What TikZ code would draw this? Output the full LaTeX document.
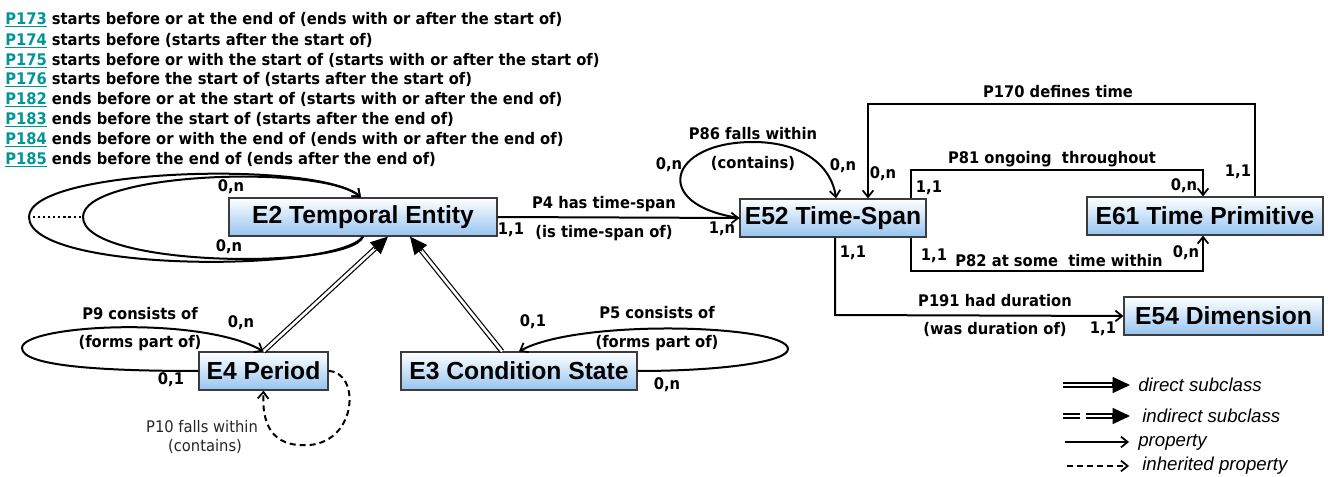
\documentclass[tikz,border=0pt]{standalone}
\usepackage{fontspec}
\usetikzlibrary{arrows.meta,calc}
\newfontfamily\lblfont{DejaVu Sans}[FakeStretch=0.92]
\newfontfamily\boxfont{Liberation Sans}
\definecolor{tealP}{RGB}{0,150,150}
\definecolor{boxblue}{RGB}{150,196,240}
\definecolor{boxline}{RGB}{60,60,60}
\begin{document}
\begin{tikzpicture}[x=0.75pt,y=-0.75pt,
  box/.style={draw=boxline, line width=0.9pt, top color=white, bottom color=boxblue,
    minimum height=28.5pt, inner sep=0pt, font=\boxfont\bfseries\fontsize{18.5}{20}\selectfont},
  lbl/.style={font=\lblfont\bfseries\fontsize{12}{13}\selectfont, inner sep=0pt},
  thin lbl/.style={font=\lblfont\fontsize{12}{13}\selectfont, inner sep=0pt, text=black!85},
  leg/.style={font=\boxfont\itshape\fontsize{14}{16}\selectfont, inner sep=0pt, anchor=west},
  prop/.style={line width=1.5pt, -{Straight Barb[length=5pt,width=8pt,line width=1.3pt]}},
  inh/.style={line width=1.5pt, dash pattern=on 4.5pt off 3pt, -{Straight Barb[length=5pt,width=8pt,line width=1.3pt]}},
  dbl/.style={double, double distance=2pt, line width=0.9pt},
  tri/.style={line width=0.9pt, -{Triangle[length=13pt,width=12pt]}}
]
\useasboundingbox (0,0) rectangle (1328,477);

% header lines
\node[lbl, anchor=west] (h1) at (5,20) {\textcolor{tealP}{\underline{P173}} starts before or at the end of (ends with or after the start of)};
\node[lbl, anchor=west] (h2) at (5,41) {\textcolor{tealP}{\underline{P174}} starts before (starts after the start of)};
\node[lbl, anchor=west] (h3) at (5,61) {\textcolor{tealP}{\underline{P175}} starts before or with the start of (starts with or after the start of)};
\node[lbl, anchor=west] (h4) at (5,80) {\textcolor{tealP}{\underline{P176}} starts before the start of (starts after the start of)};
\node[lbl, anchor=west] (h5) at (5,100) {\textcolor{tealP}{\underline{P182}} ends before or at the start of (starts with or after the end of)};
\node[lbl, anchor=west] (h6) at (5,120) {\textcolor{tealP}{\underline{P183}} ends before the start of (starts after the end of)};
\node[lbl, anchor=west] (h7) at (5,140) {\textcolor{tealP}{\underline{P184}} ends before or with the end of (ends with or after the end of)};
\node[lbl, anchor=west] (h8) at (5,160) {\textcolor{tealP}{\underline{P185}} ends before the end of (ends after the end of)};

% boxes
\node[box, minimum width=201pt] (e2) at (363,217) {E2 Temporal Entity};
\node[box, minimum width=139.5pt] (e52) at (833,218) {E52 Time-Span};
\node[box, minimum width=177pt] (e61) at (1205,216) {E61 Time Primitive};
\node[box, minimum width=149.25pt] (e54) at (1223.5,316) {E54 Dimension};
\node[box, minimum width=96.75pt] (e4) at (263.5,371) {E4 Period};
\node[box, minimum width=177pt] (e3) at (519,371) {E3 Condition State};

% helper coordinates
\coordinate (x86) at (836,0);
\coordinate (t170) at (868,104);
\coordinate (s170) at (1255,0);
\coordinate (t81) at (911,170);
\coordinate (u81) at (1203,170);
\coordinate (t82) at (911,271);
\coordinate (u82) at (1203,271);
\coordinate (t191) at (835,315);
\coordinate (xA) at (388,0);
\coordinate (xB) at (410,0);
\coordinate (xC) at (502,0);
\coordinate (xD) at (361,0);

% E2 self loops (P173...P185)
\draw[prop] (e2.south) .. controls (335,273) and (29,273) .. (29,217) .. controls (29,168) and (318,160) .. (e2.north -| xD);
\draw[prop] (e2.south) .. controls (350,270) and (83,268) .. (83,217) .. controls (83,172) and (322,164) .. (e2.north -| xD);
\draw[line width=1.6pt, dash pattern=on 1.6pt off 2.2pt] (33,217) -- (81,217);
\node[lbl] (c1) at (231,187) {0,n};
\node[lbl] (c2) at (229,247) {0,n};

% subclass arrows
\draw[dbl, shorten >=12pt] (e4.north) -- (e2.south -| xA);
\draw[tri] ($(e2.south -| xA)!14pt!(e4.north)$) -- (e2.south -| xA);
\draw[dbl, shorten >=12pt] (e3.north -| xC) -- (e2.south -| xB);
\draw[tri] ($(e2.south -| xB)!14pt!(e3.north -| xC)$) -- (e2.south -| xB);

% P9
\draw[prop] (e4.west) .. controls (100,371) and (22,366) .. (22,348) .. controls (22,325) and (200,315) .. (e4.north);
\node[lbl] (p9a) at (140,314) {P9 consists of};
\node[lbl] (p9b) at (140,343) {(forms part of)};
\node[lbl] (c3) at (241,323) {0,n};
\node[lbl] (c4) at (171,380) {0,1};

% P10
\draw[inh] (e4.east) .. controls (360,372) and (358,440) .. (310,445) .. controls (270,448) and (262,422) .. (e4.south);
\node[thin lbl] (p10a) at (202,427) {P10 falls within};
\node[thin lbl] (p10b) at (205,446) {(contains)};

% P5
\draw[prop] (e3.east) .. controls (720,371) and (788,362) .. (788,349) .. controls (788,325) and (580,318) .. (e3.north);
\node[lbl] (p5a) at (657,313) {P5 consists of};
\node[lbl] (p5b) at (657,343) {(forms part of)};
\node[lbl] (c5) at (533,322) {0,1};
\node[lbl] (c6) at (667,385) {0,n};

% P4
\draw[prop] (e2.east) -- (e52.west);
\node[lbl] (p4a) at (604,204) {P4 has time-span};
\node[lbl] (p4b) at (604,233) {(is time-span of)};
\node[lbl] (c7) at (511,230) {1,1};
\node[lbl] (c8) at (722,229) {1,n};

% P86
\draw[prop] (e52.west) .. controls (650,205) and (668,142) .. (753,142) .. controls (805,142) and (832,168) .. (e52.north -| x86);
\node[lbl] (p86a) at (753,134) {P86 falls within};
\node[lbl] (p86b) at (753,163) {(contains)};
\node[lbl] (c9) at (669,165) {0,n};
\node[lbl] (c10) at (843,166) {0,n};

% P170
\draw[prop] (e61.north -| s170) |- (t170) -- (e52.north -| t170);
\node[lbl] (p170) at (1058,92) {P170 defines time};
\node[lbl] (c11) at (883,174) {0,n};
\node[lbl] (c12) at (1238,172) {1,1};

% P81
\draw[prop] (e52.north -| t81) -- (t81) -- (u81) -- (e61.north -| u81);
\node[lbl] (p81) at (1052,159) {P81 ongoing\ \ throughout};
\node[lbl] (c13) at (929,188) {1,1};
\node[lbl] (c14) at (1184,186) {0,n};

% P82
\draw[prop] (e52.south -| t82) -- (t82) -- (u82) -- (e61.south -| u82);
\node[lbl] (p82) at (1059,261) {P82 at some\ \ time within};
\node[lbl] (c15) at (934,256) {1,1};
\node[lbl] (c16) at (1186,253) {0,n};

% P191
\draw[prop] (e52.south -| t191) -- (t191) -- (e54.west);
\node[lbl] (p191a) at (995,301) {P191 had duration};
\node[lbl] (p191b) at (995,329) {(was duration of)};
\node[lbl] (c17) at (853,253) {1,1};
\node[lbl] (c18) at (1103,329) {1,1};

% legend
\coordinate (la1) at (1063,385); \coordinate (la2) at (1113,385); \coordinate (la3) at (1130,385);
\draw[dbl] (la1) -- (la2);
\draw[tri] ($(la3)+(-18,0)$) -- (la3);
\node[leg] (lg1) at (1138,385) {direct subclass};
\coordinate (lb1) at (1063,416); \coordinate (lb2) at (1080,416); \coordinate (lb3) at (1086,416); \coordinate (lb4) at (1113,416); \coordinate (lb5) at (1130,416);
\draw[dbl] (lb1) -- (lb2);
\draw[dbl] (lb3) -- (lb4);
\draw[tri] ($(lb5)+(-18,0)$) -- (lb5);
\node[leg] (lg2) at (1142,416) {indirect subclass};
\coordinate (lc1) at (1065,442); \coordinate (lc2) at (1129,442);
\draw[prop] (lc1) -- (lc2);
\node[leg] (lg3) at (1138,442) {property};
\coordinate (ld1) at (1067,466); \coordinate (ld2) at (1129,466);
\draw[inh] (ld1) -- (ld2);
\node[leg] (lg4) at (1142,466) {inherited property};
\end{tikzpicture}
\end{document}
